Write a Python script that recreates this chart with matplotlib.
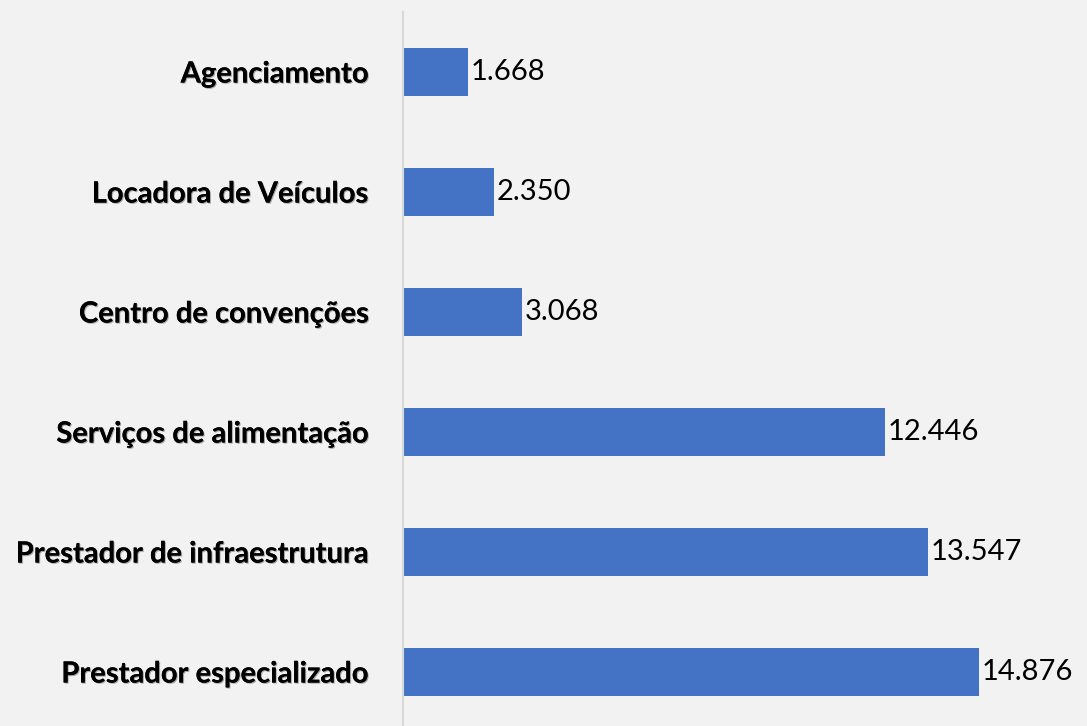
import matplotlib
matplotlib.use("Agg")
import matplotlib.pyplot as plt
import matplotlib.patheffects as pe

categories = ["Agenciamento", "Locadora de Veículos", "Centro de convenções",
              "Serviços de alimentação", "Prestador de infraestrutura", "Prestador especializado"]
values = [1668, 2350, 3068, 12446, 13547, 14876]
value_labels = ["1.668", "2.350", "3.068", "12.446", "13.547", "14.876"]

W, H = 1087, 726
fig = plt.figure(figsize=(W / 100, H / 100), dpi=100)
fig.patch.set_facecolor("#f2f2f2")

left_px, top_px, bottom_px, right_px = 403, 12, 732, 1087
ax = fig.add_axes([left_px / W, 1 - bottom_px / H, (right_px - left_px) / W, (bottom_px - top_px) / H])
ax.set_facecolor("#f2f2f2")

y = list(range(len(categories)))
ax.barh(y, values, height=0.4, color="#4472c4", zorder=3)
ax.set_ylim(len(categories) - 0.5, -0.5)
ax.set_xlim(0, (right_px - left_px) / 0.03872)

ax.set_yticks(y)
ax.set_yticklabels(categories, fontsize=21, fontweight="bold", family=["Lato", "DejaVu Sans"])
for t in ax.get_yticklabels():
    t.set_path_effects([pe.withSimplePatchShadow(offset=(0.8, -0.8), shadow_rgbFace="#555555", alpha=0.5), pe.Normal()])
ax.tick_params(axis="y", length=0, pad=25)
ax.set_xticks([])

for s in ["top", "right", "bottom"]:
    ax.spines[s].set_visible(False)
ax.spines["left"].set_color("#d9d9d9")
ax.spines["left"].set_linewidth(1.5)
ax.spines["left"].set_zorder(4)

for yi, v, lab in zip(y, values, value_labels):
    ax.annotate(lab, (v, yi), xytext=(2, 0), textcoords="offset points",
                va="center", ha="left", fontsize=21, family=["Lato", "DejaVu Sans"], color="black")

fig.savefig("out.png", dpi=100, facecolor=fig.get_facecolor())
